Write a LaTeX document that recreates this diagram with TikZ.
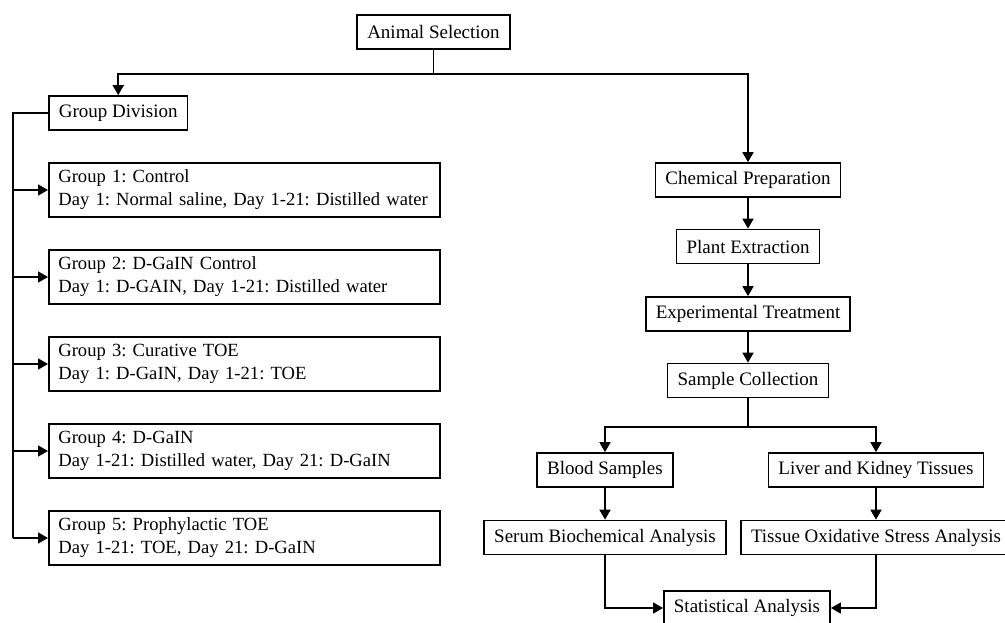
\documentclass[tikz,border=0pt]{standalone}
\usepackage{fontspec}
\setmainfont{Liberation Serif}
\usetikzlibrary{arrows.meta}
\frenchspacing
\begin{document}
\begin{tikzpicture}[x=1pt,y=-1pt,line width=1.7pt,
  font=\fontsize{19}{23}\selectfont,
  box/.style={draw,inner xsep=10pt,inner ysep=0pt,minimum height=34pt},
  grp/.style={draw,anchor=west,align=left,text width=372pt,inner xsep=9.5pt,minimum height=54pt,
    font=\fontsize{18.6}{23}\selectfont},
  arr/.style={-{Triangle[length=10pt,width=11pt]}}]
\useasboundingbox (0,0) rectangle (1005,622);

% boxes
\node[box] (as) at (433.5,32) {Animal Selection};
\node[box,anchor=west] (gd) at (48,113) {Group Division};
\node[grp] (g1) at (48,190) {Group 1: Control\\\mbox{Day 1: Normal saline, Day 1-21: Distilled water}};
\node[grp] (g2) at (48,277) {Group 2: D-GaIN Control\\Day 1: D-GAIN, Day 1-21: Distilled water};
\node[grp] (g3) at (48,364) {Group 3: Curative TOE\\Day 1: D-GaIN, Day 1-21: TOE};
\node[grp] (g4) at (48,451) {Group 4: D-GaIN\\Day 1-21: Distilled water, Day 21: D-GaIN};
\node[grp] (g5) at (48,538) {Group 5: Prophylactic TOE\\Day 1-21: TOE, Day 21: D-GaIN};
\node[box] (chem) at (748,180) {Chemical Preparation};
\node[box] (plant) at (748,246.5) {Plant Extraction};
\node[box] (exp) at (748,314) {Experimental Treatment};
\node[box] (sample) at (748,380.5) {Sample Collection};
\node[box] (blood) at (605,470) {Blood Samples};
\node[box] (liver) at (876,470) {Liver and Kidney Tissues};
\node[box] (serum) at (605,537.5) {Serum Biochemical Analysis};
\node[box] (tissue) at (876,537.5) {Tissue Oxidative Stress Analysis};
\node[box] (stat) at (747,608) {Statistical Analysis};

% connectors
\draw[arr] (as.south) -- ++(0,24) -| (gd.north);
\draw[arr] (as.south) -- ++(0,24) -| (chem.north);
\coordinate (bus) at (13,113);
\draw (gd.west) -- (bus) -- (bus |- g5.west);
\foreach \g in {g1,g2,g3,g4,g5}
  \draw[arr] (bus |- \g.west) -- (\g.west);
\draw[arr] (chem) -- (plant);
\draw[arr] (plant) -- (exp);
\draw[arr] (exp) -- (sample);
\draw[arr] (sample.south) -- ++(0,28.5) -| (blood.north);
\draw[arr] (sample.south) -- ++(0,28.5) -| (liver.north);
\draw[arr] (blood) -- (serum);
\draw[arr] (liver) -- (tissue);
\draw[arr] (serum.south) |- (stat.west);
\draw[arr] (tissue.south) |- (stat.east);
\end{tikzpicture}
\end{document}
